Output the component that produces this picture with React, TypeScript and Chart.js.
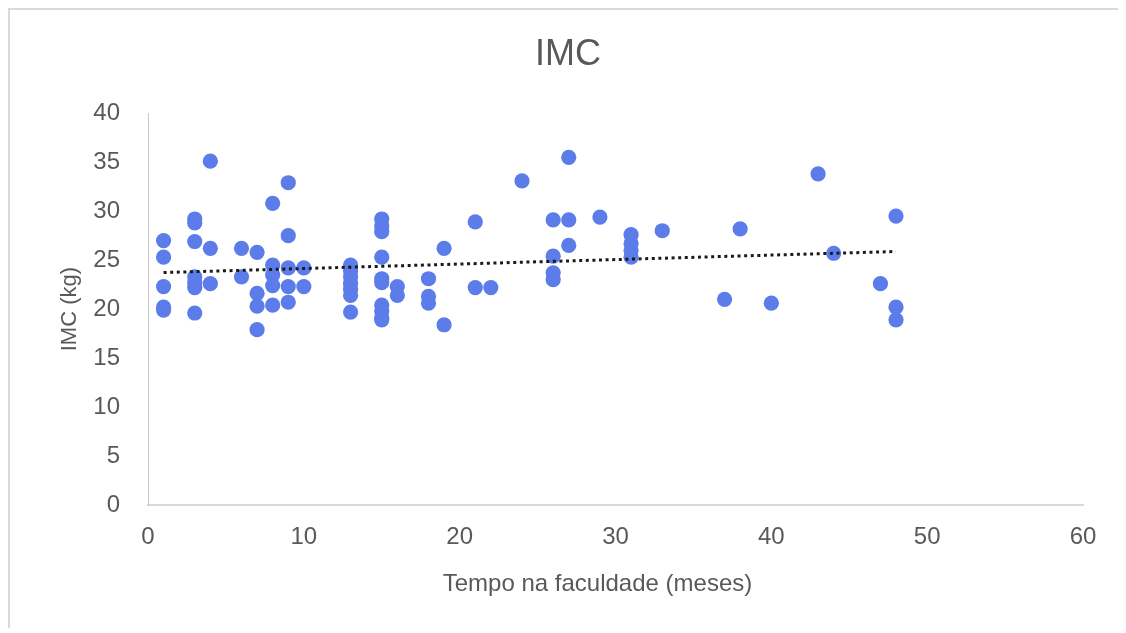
import React, { useEffect, useRef } from "react";
import { Chart, registerables } from "chart.js";

Chart.register(...registerables);

// Months at university (x) and BMI (y)
const tempoMeses: number[] = [
  1, 1, 1, 1, 1,
  3, 3, 3, 3, 3, 3, 3,
  4, 4, 4,
  6, 6,
  7, 7, 7, 7,
  8, 8, 8, 8, 8,
  9, 9, 9, 9, 9,
  10, 10,
  13, 13, 13, 13, 13, 13, 13,
  15, 15, 15, 15, 15, 15, 15, 15, 15, 15,
  16, 16,
  18, 18, 18,
  19, 19,
  21, 21,
  22,
  24,
  26, 26, 26, 26,
  27, 27, 27,
  29,
  31, 31, 31, 31,
  33,
  37,
  38,
  40,
  43,
  44,
  47,
  48, 48, 48,
];

const imcValores: number[] = [
  27.0, 25.3, 22.3, 20.2, 19.9,
  29.2, 28.8, 26.9, 23.3, 22.7, 22.2, 19.6,
  35.1, 26.2, 22.6,
  26.2, 23.3,
  25.8, 21.6, 20.3, 17.9,
  30.8, 24.5, 23.5, 22.4, 20.4,
  32.9, 27.5, 24.2, 22.3, 20.7,
  24.2, 22.3,
  24.5, 23.9, 23.3, 22.6, 22.0, 21.4, 19.7,
  29.2, 28.5, 27.9, 25.3, 23.1, 22.7, 20.4, 19.8, 19.1, 18.9,
  22.3, 21.4,
  23.1, 21.3, 20.6,
  26.2, 18.4,
  28.9, 22.2,
  22.2,
  33.1,
  29.1, 25.4, 23.7, 23.0,
  35.5, 29.1, 26.5,
  29.4,
  27.6, 26.7, 26.0, 25.3,
  28.0,
  21.0,
  28.2,
  20.6,
  33.8,
  25.7,
  22.6,
  29.5, 20.2, 18.9,
];

const xTicks: number[] = [0, 10, 20, 30, 40, 50, 60];
const yTicks: number[] = [0, 5, 10, 15, 20, 25, 30, 35, 40];

const titulo = "IMC";
const tituloX = "Tempo na faculdade (meses)";
const tituloY = "IMC (kg)";

const FONT = "'Liberation Sans', Arial, sans-serif";
const GRAY = "#595959";

function linearTrend(xs: number[], ys: number[]) {
  const n = xs.length;
  let sx = 0, sy = 0, sxx = 0, sxy = 0;
  for (let i = 0; i < n; i++) {
    sx += xs[i];
    sy += ys[i];
    sxx += xs[i] * xs[i];
    sxy += xs[i] * ys[i];
  }
  const slope = (n * sxy - sx * sy) / (n * sxx - sx * sx);
  const intercept = (sy - slope * sx) / n;
  const minX = Math.min(...xs);
  const maxX = Math.max(...xs);
  return [
    { x: minX, y: intercept + slope * minX },
    { x: maxX, y: intercept + slope * maxX },
  ];
}

// Draws the x-axis title slightly left of the plot centre, as in the reference
const xTitlePlugin = {
  id: "xTitle",
  afterDraw(chart: any) {
    const { ctx, chartArea } = chart;
    ctx.save();
    ctx.font = `24px ${FONT}`;
    ctx.fillStyle = GRAY;
    ctx.textAlign = "center";
    ctx.textBaseline = "middle";
    const cx = (chartArea.left + chartArea.right) / 2 - 18;
    ctx.fillText(tituloX, cx, chartArea.bottom + 79);
    ctx.restore();
  },
};

export default function App() {
  const canvasRef = useRef<HTMLCanvasElement | null>(null);

  useEffect(() => {
    document.body.style.overflow = "hidden";
    const canvas = canvasRef.current;
    if (!canvas) return;
    const points = tempoMeses.map((x, i) => ({ x, y: imcValores[i] }));
    const trend = linearTrend(tempoMeses, imcValores);

    const chart = new Chart(canvas, {
      type: "scatter",
      data: {
        datasets: [
          {
            label: "IMC",
            data: points,
            backgroundColor: "#5b7ce9",
            borderColor: "#5b7ce9",
            borderWidth: 0,
            pointRadius: 7.6,
            order: 2,
          },
          {
            label: "Tendência",
            type: "line",
            data: trend,
            borderColor: "#1a1a1a",
            borderWidth: 3,
            borderDash: [3, 3.6],
            borderCapStyle: "butt",
            pointRadius: 0,
            fill: false,
            order: 1,
          } as any,
        ],
      },
      options: {
        animation: false,
        responsive: true,
        maintainAspectRatio: false,
        layout: { padding: { left: 0, right: 0, top: 0, bottom: 0 } },
        plugins: {
          legend: { display: false },
          tooltip: { enabled: false },
          title: {
            display: true,
            text: titulo,
            color: GRAY,
            font: { family: FONT, size: 36, weight: "normal" },
            padding: { top: 23, bottom: 37 },
          },
        },
        scales: {
          x: {
            type: "linear",
            min: 0,
            max: 60,
            afterBuildTicks: (scale: any) => {
              scale.ticks = xTicks.map((v) => ({ value: v }));
            },
            afterFit: (scale: any) => {
              scale.height = 123;
            },
            grid: { display: false, drawTicks: false, tickLength: 0 },
            border: { display: true, color: "#d9d9d9", width: 2 },
            ticks: {
              color: GRAY,
              padding: 18,
              font: { family: FONT, size: 24 },
            },
            title: { display: false },
          },
          y: {
            type: "linear",
            min: 0,
            max: 40,
            afterBuildTicks: (scale: any) => {
              scale.ticks = yTicks.map((v) => ({ value: v }));
            },
            afterFit: (scale: any) => {
              scale.width = 138;
            },
            grid: { display: false, drawTicks: false, tickLength: 0 },
            border: { display: true, color: "#c8c8c8", width: 1 },
            ticks: {
              color: GRAY,
              padding: 28,
              font: { family: FONT, size: 24 },
            },
            title: {
              display: true,
              text: tituloY,
              color: GRAY,
              font: { family: FONT, size: 22 },
              padding: { top: 47, bottom: 0 },
            },
          },
          yRightSpace: {
            type: "linear",
            position: "right",
            display: true,
            min: 0,
            max: 40,
            afterFit: (scale: any) => {
              scale.width = 43;
            },
            grid: { display: false, drawTicks: false, tickLength: 0 },
            border: { display: false },
            ticks: { display: false },
            title: { display: false },
          },
        },
      },
      plugins: [xTitlePlugin],
    });
    return () => chart.destroy();
  }, []);

  return (
    <div
      style={{
        boxSizing: "border-box",
        width: 1118,
        height: 620,
        borderTop: "2px solid #d9d9d9",
        borderLeft: "2px solid #d9d9d9",
        background: "#ffffff",
      }}
    >
      <div style={{ position: "relative", width: 1116, height: 618 }}>
        <canvas ref={canvasRef} />
      </div>
    </div>
  );
}
